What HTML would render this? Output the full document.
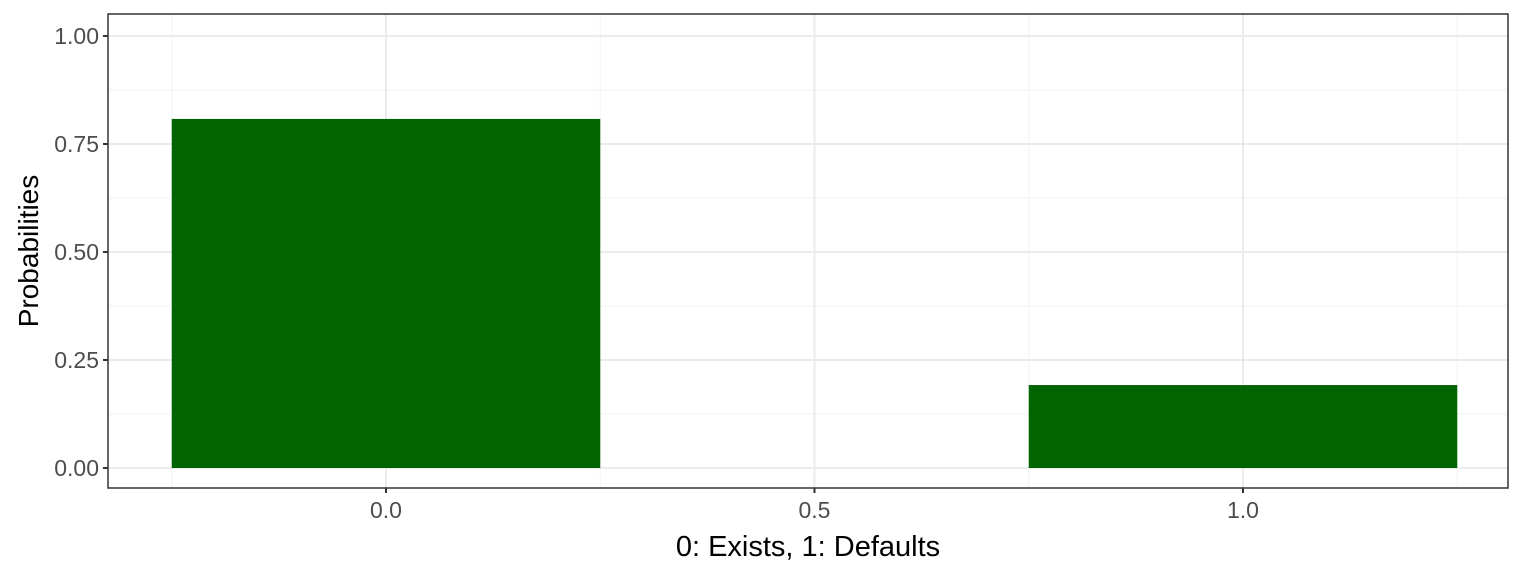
<!DOCTYPE html>
<html><head><meta charset="utf-8"><style>
body{margin:0;background:#fff;}
svg{display:block;font-family:"Liberation Sans",Arial,sans-serif;}
</style></head><body>
<svg id="chart" width="1536" height="576"></svg>
<script>
const categories=[0,1];
const probabilities=[0.808,0.192];
const xTicks=[0,0.5,1];
const xTickLabels=["0.0","0.5","1.0"];
const yTicks=[0,0.25,0.5,0.75,1];
const yTickLabels=["0.00","0.25","0.50","0.75","1.00"];
const NS="http://www.w3.org/2000/svg";
const svg=document.getElementById('chart');
const L=108,R=1508,T=14,B=488;
const x0=386,x1=1243;
const xs=v=>x0+(x1-x0)*v;
const ys=v=>468-432*v;
function mk(tag,attrs,parent){const e=document.createElementNS(NS,tag);for(const k in attrs)e.setAttribute(k,attrs[k]);(parent||svg).appendChild(e);return e;}
for(let i=0;i<yTicks.length-1;i++){const v=(yTicks[i]+yTicks[i+1])/2;
const g=mk('line',{x1:L,x2:R,y1:ys(v),y2:ys(v),stroke:'#f2f2f2','stroke-width':1});

}
[-0.25,0.25,0.75,1.25].forEach(v=>{const g=mk('line',{x1:xs(v),x2:xs(v),y1:T,y2:B,stroke:'#f2f2f2','stroke-width':1});

});
yTicks.forEach((v,i)=>{const g=mk('line',{x1:L,x2:R,y1:ys(v),y2:ys(v),stroke:'#ebebeb','stroke-width':2});


const t=mk('line',{x1:L-5,x2:L,y1:ys(v),y2:ys(v),stroke:'#333','stroke-width':2});


const l=mk('text',{x:L-9,y:ys(v)+8,'text-anchor':'end','font-size':23,fill:'#4d4d4d'});l.textContent=yTickLabels[i];

});
xTicks.forEach((v,i)=>{const g=mk('line',{x1:xs(v),x2:xs(v),y1:T,y2:B,stroke:'#ebebeb','stroke-width':2});


const t=mk('line',{x1:xs(v),x2:xs(v),y1:B,y2:B+5,stroke:'#333','stroke-width':2});


const l=mk('text',{x:xs(v),y:B+30,'text-anchor':'middle','font-size':23,fill:'#4d4d4d'});l.textContent=xTickLabels[i];

});
categories.forEach((c,i)=>{const b=mk('rect',{x:xs(c-0.25),y:ys(probabilities[i]),width:xs(c+0.25)-xs(c-0.25),height:ys(0)-ys(probabilities[i]),fill:'#006400'});

});
const f=mk('rect',{x:L,y:T,width:R-L,height:B-T,fill:'none',stroke:'#333','stroke-width':1.5});


const xt=mk('text',{x:(L+R)/2,y:556,'text-anchor':'middle','font-size':29,fill:'#000'});xt.textContent='0: Exists, 1: Defaults';


const yt=mk('text',{x:0,y:0,'text-anchor':'middle','font-size':28,fill:'#000',transform:'translate(38,'+((T+B)/2)+') rotate(-90)'});yt.textContent='Probabilities';


</script>
</body></html>
